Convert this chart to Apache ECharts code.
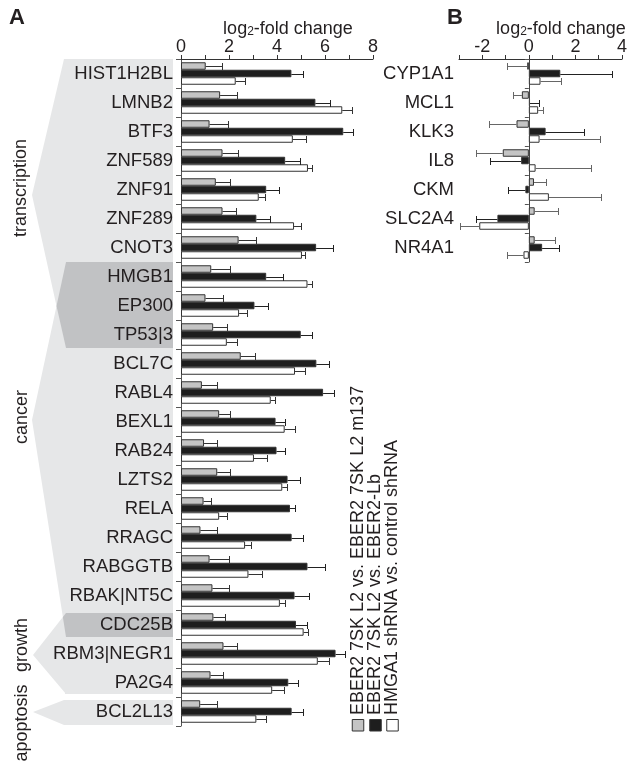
<!DOCTYPE html>
<html><head><meta charset="utf-8">
<script src="https://cdn.jsdelivr.net/npm/echarts@6/dist/echarts.min.js"></script>
<style>html,body{margin:0;padding:0;background:#fff}#c{width:630px;height:764px}</style>
</head><body><div id="c"></div>
<script>
// ---------- Panel A data ----------
const catsA = ['HIST1H2BL','LMNB2','BTF3','ZNF589','ZNF91','ZNF289','CNOT3','HMGB1','EP300','TP53|3','BCL7C','RABL4','BEXL1','RAB24','LZTS2','RELA','RRAGC','RABGGTB','RBAK|NT5C','CDC25B','RBM3|NEGR1','PA2G4','BCL2L13'];
const grayA     = [1.03,1.63,1.19,1.73,1.45,1.73,2.40,1.26,1.02,1.34,2.49,0.87,1.59,0.96,1.51,0.94,0.81,1.19,1.31,1.35,1.77,1.23,0.80];
const grayErrA  = [1.70,2.33,1.94,2.37,2.03,2.28,3.11,2.03,1.73,1.90,3.07,1.52,2.05,1.51,2.05,1.26,1.52,1.98,2.01,1.84,2.33,1.76,1.49];
const blackA    = [4.60,5.60,6.76,4.34,3.55,3.14,5.63,3.55,3.06,4.99,5.64,5.92,3.94,3.98,4.44,4.54,4.61,5.27,4.73,4.79,6.44,4.47,4.61];
const blackErrA = [5.07,6.22,7.15,4.94,4.08,3.69,6.34,4.23,3.62,5.47,6.16,6.37,4.33,4.33,4.96,4.73,5.08,5.98,5.35,5.27,6.82,4.86,5.07];
const whiteA    = [2.28,6.72,4.66,5.29,3.24,4.71,5.04,5.27,2.42,1.91,4.75,3.74,4.32,3.04,4.22,1.59,2.67,2.81,4.12,5.11,5.70,3.80,3.14];
const whiteErrA = [2.68,7.12,5.20,5.47,3.52,4.99,5.15,5.47,2.74,2.33,5.15,3.91,4.75,3.59,4.40,1.91,2.90,3.39,4.33,5.29,6.16,4.29,3.56];

// ---------- Panel B data ----------
const catsB = ['CYP1A1','MCL1','KLK3','IL8','CKM','SLC2A4','NR4A1'];
const grayB     = [-0.07,-0.30,-0.53,-1.12,0.22,0.25,0.25];
const grayErrB  = [-0.93,-0.69,-1.73,-2.27,0.75,1.24,1.13];
const blackB    = [1.35,0.05,0.72,-0.33,-0.15,-1.35,0.57];
const blackErrB = [3.59,0.44,2.36,-1.68,-0.91,-2.27,1.28];
const whiteB    = [0.50,0.40,0.46,0.29,0.86,-2.13,-0.23];
const whiteErrB = [1.38,0.61,3.07,2.69,3.09,-2.97,-0.93];

// ---------- labels ----------
const groupLabels = ['transcription','cancer','growth','apoptosis'];
const legendLabels = ['EBER2 7SK L2 vs. EBER2 7SK L2 m137','EBER2 7SK L2 vs. EBER2-Lb','HMGA1 shRNA vs. control shRNA'];
const axisTitle = ['log','2','-fold change'];

// ---------- style / layout ----------
const FONT = '"Liberation Sans", Arial, sans-serif';
const TXT = '#231f20';
const GRAY = '#c4c4c4', BLACK = '#1e1e1e', WHITE = '#ffffff';
const LIGHT = '#e6e7e8', DARK = '#c1c2c4';
const A_LEFT = 181, TOP = 59, ROW = 29, A_W = 192;
const B_LEFT = 459, B_W = 167;
const BAR_W = 7.5;

const chart = echarts.init(document.getElementById('c'));

function rowY(i){ return TOP + i*ROW; }
function inter(p1,p2,p3,p4){
  const x1=p1[0],y1=p1[1],x2=p2[0],y2=p2[1],x3=p3[0],y3=p3[1],x4=p4[0],y4=p4[1];
  const d=(x1-x2)*(y3-y4)-(y1-y2)*(x3-x4);
  const t=((x1-x3)*(y3-y4)-(y1-y3)*(x3-x4))/d;
  return [x1+t*(x2-x1), y1+t*(y2-y1)];
}

// background shapes
const BX0 = 66, BX1 = 173, TIPX = 32;
const tTop=[64,rowY(0)], tTip=[TIPX,195], tBot=[BX0,rowY(10)];
const cTop=[BX0,rowY(7)], cTip=[TIPX,420], cBot=[BX0,637];
const gTop=[BX0,613], gTip=[33,655], gBot=[BX0,694];
const X1 = inter(tTip,tBot,cTop,cTip);
const X2 = inter(cTip,cBot,gTop,gTip);
const bg = [
  {type:'rect', shape:{x:BX0-1,y:rowY(0),width:BX1-BX0+1,height:694-rowY(0)}, style:{fill:LIGHT}},
  {type:'polygon', shape:{points:[tTop,tTip,tBot,[BX0+1,rowY(10)],[BX0+1,rowY(0)]]}, style:{fill:LIGHT}},
  {type:'polygon', shape:{points:[cTop,cTip,cBot,[BX0+1,637],[BX0+1,rowY(7)]]}, style:{fill:LIGHT}},
  {type:'polygon', shape:{points:[gTop,gTip,gBot,[BX0+1,694],[BX0+1,613]]}, style:{fill:LIGHT}},
  {type:'polygon', shape:{points:[[64,700],[BX1,700],[BX1,725],[64,725],[33,712]]}, style:{fill:LIGHT}},
  {type:'rect', shape:{x:BX0,y:rowY(7),width:BX1-BX0,height:rowY(10)-rowY(7)-1}, style:{fill:DARK}},
  {type:'polygon', shape:{points:[cTop,X1,[BX0,rowY(10)-1],[BX0+1,rowY(10)-1],[BX0+1,rowY(7)]]}, style:{fill:DARK}},
  {type:'rect', shape:{x:BX0,y:613,width:BX1-BX0,height:24}, style:{fill:DARK}},
  {type:'polygon', shape:{points:[gTop,X2,cBot,[BX0+1,637],[BX0+1,613]]}, style:{fill:DARK}}
].map(e => Object.assign(e,{z:0, silent:true}));

function vtext(txt, x, y, align){
  return {type:'text', x:x, y:y, rotation:Math.PI/2, z:5, silent:true,
    style:{text:txt, font:'18px '+FONT, fill:TXT, textAlign:align||'center', align:align||'center', textVerticalAlign:'middle', verticalAlign:'middle'}};
}
const groupPos = [[21,188],[22,417],[22,645],[22,723]];
const groupTexts = groupLabels.map((g,i)=>vtext(g, groupPos[i][0], groupPos[i][1]));

// legend
const legCols = [358, 375.5, 392.5];
const legFills = [GRAY, BLACK, WHITE];
const legend = [];
legendLabels.forEach((t,i)=>{
  legend.push({type:'rect', z:5, silent:true, shape:{x:legCols[i]-5.75, y:719.5, width:11.5, height:11.5}, style:{fill:legFills[i], stroke:'#333', lineWidth:1}});
  legend.push(vtext(t, legCols[i], 715, 'left'));
});

function axisName(cx, cy){
  return {type:'text', x:cx, y:cy, z:5, silent:true,
    style:{text:'{a|'+axisTitle[0]+'}{s|'+axisTitle[1]+'}{a|'+axisTitle[2]+'}',
      rich:{a:{fontSize:18, fontFamily:FONT, fill:TXT, color:TXT, lineHeight:20, verticalAlign:'bottom'},
            s:{fontSize:12, fontFamily:FONT, fill:TXT, color:TXT, lineHeight:8, verticalAlign:'bottom'}},
      textAlign:'center', align:'center', textVerticalAlign:'middle', verticalAlign:'middle'}};
}

const panelLabels = [
  {type:'text', x:17, y:18, z:5, style:{text:'A', font:'bold 22px '+FONT, fill:TXT, textAlign:'center', align:'center', textVerticalAlign:'middle', verticalAlign:'middle'}},
  {type:'text', x:455, y:18, z:5, style:{text:'B', font:'bold 22px '+FONT, fill:TXT, textAlign:'center', align:'center', textVerticalAlign:'middle', verticalAlign:'middle'}}
];

function barSeries(data, idx, fill){
  return {type:'bar', xAxisIndex:idx, yAxisIndex:idx, data:data, barWidth:BAR_W, barGap:'0%',
    itemStyle:{color:fill, borderColor:'#333', borderWidth:1}, z:3, silent:true};
}
function errSeries(vals, errs, idx, offset, col){
  return {type:'custom', xAxisIndex:idx, yAxisIndex:idx, z:4, silent:true, clip:false,
    encode:{x:[0,1], y:2},
    data: vals.map((v,i)=>[v, errs[i], i]),
    renderItem:function(params, api){
      const c = api.value(2);
      const p1 = api.coord([api.value(0), c]);
      const p2 = api.coord([api.value(1), c]);
      const y = Math.round(p1[1] + offset) + 0.5;
      const x2 = Math.round(p2[0]) + 0.5;
      return {type:'group', children:[
        {type:'line', shape:{x1:p1[0], y1:y, x2:x2, y2:y}, style:{stroke:col, lineWidth:1}},
        {type:'line', shape:{x1:x2, y1:y-3.5, x2:x2, y2:y+3.5}, style:{stroke:col, lineWidth:1}}
      ]};
    }};
}

const axisCommon = {
  axisLine:{show:true, lineStyle:{color:'#333', width:1}},
  axisTick:{show:true, length:4, lineStyle:{color:'#333'}},
  splitLine:{show:false}
};

const option = {
  animation:false,
  textStyle:{fontFamily:FONT},
  grid:[
    {left:A_LEFT, top:TOP, width:A_W, height:ROW*catsA.length},
    {left:B_LEFT, top:TOP, width:B_W, height:ROW*catsB.length}
  ],
  xAxis:[
    Object.assign({gridIndex:0, type:'value', position:'top', min:0, max:8, interval:1,
      axisLabel:{fontSize:18, color:TXT, margin:3, formatter:v=>(v%2===0?String(v):'')}}, axisCommon),
    Object.assign({gridIndex:1, type:'value', position:'top', min:-3, max:4, interval:1,
      axisLabel:{fontSize:18, color:TXT, margin:3, formatter:v=>(v%2===0?String(v):'')}}, axisCommon)
  ],
  yAxis:[
    {gridIndex:0, type:'category', data:catsA, inverse:true,
      axisLine:{show:true, lineStyle:{color:'#555'}}, axisTick:{show:true, length:5, lineStyle:{color:'#555'}},
      axisLabel:{fontSize:18.5, color:TXT, margin:8, interval:0}, splitLine:{show:false}},
    {gridIndex:1, type:'category', data:catsB, inverse:true,
      axisLine:{show:true, lineStyle:{color:'#555'}}, axisTick:{show:true, length:4, lineStyle:{color:'#555'}},
      axisLabel:{fontSize:18.5, color:TXT, margin:5, interval:0}, splitLine:{show:false}}
  ],
  graphic:{elements: bg.concat(groupTexts, legend, [axisName(288,28), axisName(561,28)], panelLabels)},
  series:[
    barSeries(grayA,0,GRAY), barSeries(blackA,0,BLACK), barSeries(whiteA,0,WHITE),
    errSeries(grayA,grayErrA,0,-BAR_W,'#333'), errSeries(blackA,blackErrA,0,0,'#222'), errSeries(whiteA,whiteErrA,0,BAR_W,'#333'),
    barSeries(grayB,1,GRAY),
    Object.assign(barSeries(blackB,1,BLACK), {markLine:{silent:true, symbol:'none', label:{show:false},
      lineStyle:{color:'#444', width:1, type:'solid'}, data:[{xAxis:0}]}}),
    barSeries(whiteB,1,WHITE),
    errSeries(grayB,grayErrB,1,-BAR_W,'#666'), errSeries(blackB,blackErrB,1,0,'#222'), errSeries(whiteB,whiteErrB,1,BAR_W,'#666')
  ]
};
chart.setOption(option);
</script></body></html>
